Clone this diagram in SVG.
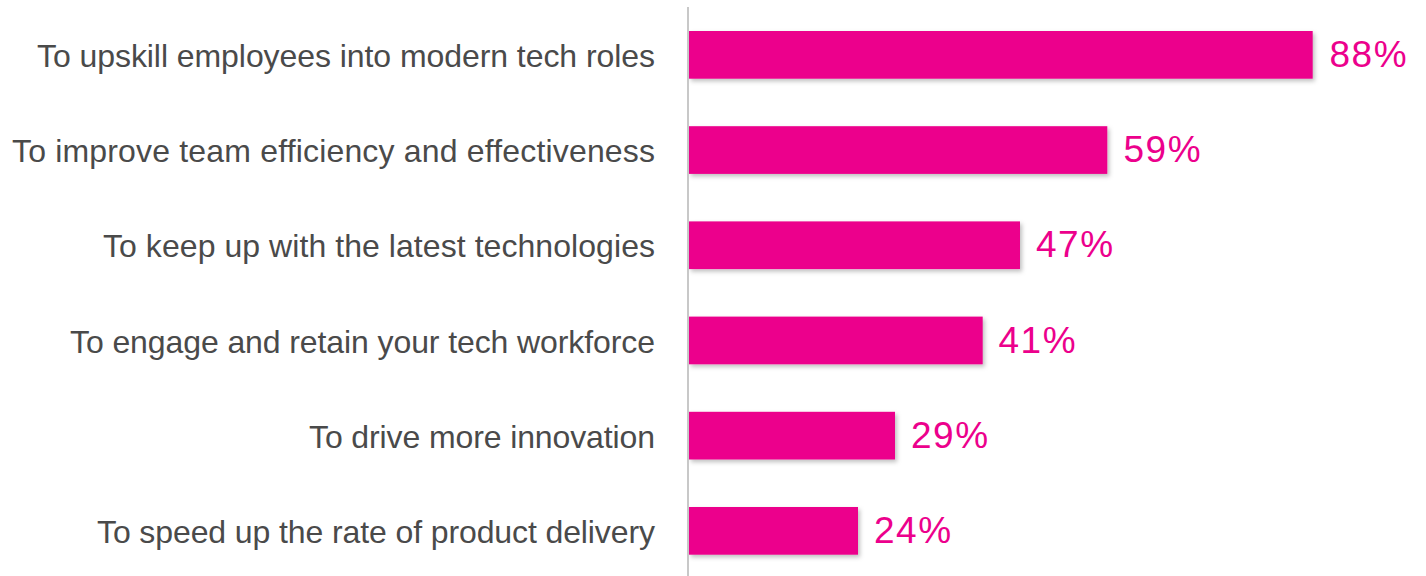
<svg xmlns="http://www.w3.org/2000/svg" width="1426" height="576" viewBox="0 0 1426 576">
<defs>
<filter id="sh" x="-5%" y="-20%" width="115%" height="160%">
<feDropShadow dx="2" dy="2.5" stdDeviation="2" flood-color="#000" flood-opacity="0.25"/>
</filter>
<style>
.lbl{font-family:"Liberation Sans",Arial,Helvetica,sans-serif;font-size:32px;fill:#4a4a4a;text-anchor:end}
.val{font-family:"Liberation Sans",Arial,Helvetica,sans-serif;font-size:37px;fill:#EC008C;letter-spacing:1.5px}
.bar{fill:#EC008C;filter:url(#sh)}
.axis{stroke:#c8c8c8;stroke-width:2;fill:none}
</style>
</defs>
<rect width="1426" height="576" fill="#ffffff"/>
<g id="bar1">
<rect class="bar" x="689" y="31" width="623.7" height="47.7"/>
<text class="lbl" x="655" y="67" textLength="618" lengthAdjust="spacing">To upskill employees into modern tech roles</text>
<text class="val" x="1329.5" y="67">88%</text>
</g>
<g id="bar2">
<rect class="bar" x="689" y="126.2" width="418.3" height="47.7"/>
<text class="lbl" x="655" y="162.2" textLength="643" lengthAdjust="spacing">To improve team efficiency and effectiveness</text>
<text class="val" x="1123.5" y="162.2">59%</text>
</g>
<g id="bar3">
<rect class="bar" x="689" y="221.4" width="331" height="47.7"/>
<text class="lbl" x="655" y="257.4" textLength="552" lengthAdjust="spacing">To keep up with the latest technologies</text>
<text class="val" x="1036" y="257.4">47%</text>
</g>
<g id="bar4">
<rect class="bar" x="689" y="316.6" width="293.7" height="47.7"/>
<text class="lbl" x="655" y="352.6" textLength="585" lengthAdjust="spacing">To engage and retain your tech workforce</text>
<text class="val" x="998.5" y="352.6">41%</text>
</g>
<g id="bar5">
<rect class="bar" x="689" y="411.8" width="206" height="47.7"/>
<text class="lbl" x="655" y="447.8" textLength="346" lengthAdjust="spacing">To drive more innovation</text>
<text class="val" x="911" y="447.8">29%</text>
</g>
<g id="bar6">
<rect class="bar" x="689" y="507" width="169" height="47.7"/>
<text class="lbl" x="655" y="543" textLength="558" lengthAdjust="spacing">To speed up the rate of product delivery</text>
<text class="val" x="874" y="543">24%</text>
</g>
<g id="connectors">
<line class="axis" x1="688" y1="7" x2="688" y2="576"/>
</g>
</svg>
